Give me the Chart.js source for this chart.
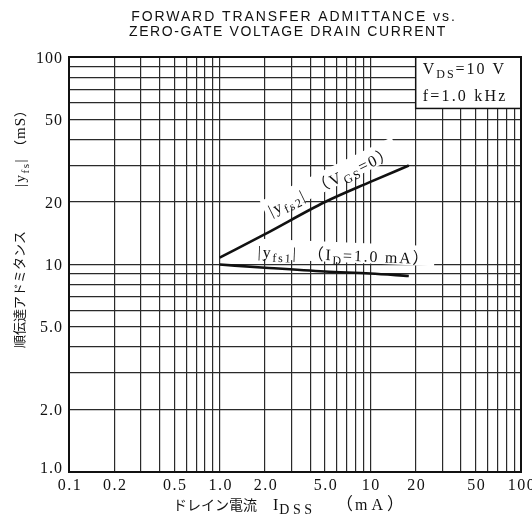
<!DOCTYPE html>
<html><head><meta charset="utf-8">
<script src="https://cdn.jsdelivr.net/npm/chart.js@4/dist/chart.umd.min.js"></script>
<style>html,body{margin:0;padding:0;background:#fff}#c{display:block}</style>
</head><body>
<canvas id="c" width="532" height="524"></canvas>
<script>
// ---- data ----
const titleLines = ['FORWARD TRANSFER ADMITTANCE vs.', 'ZERO-GATE VOLTAGE DRAIN CURRENT'];
const xTickValues = [0.1, 0.2, 0.5, 1, 2, 5, 10, 20, 50, 100];
const xTickLabels = ['0.1', '0.2', '0.5', '1.0', '2.0', '5.0', '10', '20', '50', '100'];
const yTickValues = [1, 2, 5, 10, 20, 50, 100];
const yTickLabels = ['1.0', '2.0', '5.0', '10', '20', '50', '100'];
const idss = [1, 2, 5, 10, 18];            // mA
const yfs2 = [10.8, 14.0, 20, 25, 30];     // mS (VGS=0)
const yfs1 = [10, 9.65, 9.25, 9.05, 8.8];  // mS (ID=1.0 mA)
const xRange = [0.1, 100];
const yRange = [1, 100];

// ---- helpers ----
const SERIF = '"Liberation Serif", "DejaVu Serif", serif';
const SANS = '"Liberation Sans", Arial, sans-serif';
const CJK = '"Noto Sans CJK JP", sans-serif';

function gridValues(min, max) {
  const out = [];
  for (let d = Math.floor(Math.log10(min)); d <= Math.ceil(Math.log10(max)); d++) {
    for (let k = 1; k <= 9; k++) {
      const v = +(k * Math.pow(10, d)).toPrecision(6);
      if (v >= min - 1e-9 && v <= max + 1e-9) out.push(v);
    }
  }
  if (out[out.length - 1] < max) out.push(max);
  return out;
}
function segFont(s, size) {
  const sz = s.size || size;
  if (s.k === 'j') return sz + 'px ' + CJK;
  if (s.k === 'sans') return sz + 'px ' + SANS;
  if (s.k === 's') return Math.round(sz * 0.72) + 'px ' + SERIF;
  return sz + 'px ' + SERIF;
}
function richWidth(ctx, segs, size, sp) {
  let w = 0;
  for (const s of segs) {
    if (s.gap) { w += s.gap; continue; }
    ctx.font = segFont(s, size);
    ctx.letterSpacing = (s.sp != null ? s.sp : sp) + 'px';
    w += ctx.measureText(s.t).width;
  }
  return w;
}
function drawRich(ctx, segs, x, y, size, sp, align) {
  const w = richWidth(ctx, segs, size, sp);
  let cx = align === 'center' ? x - w / 2 : align === 'right' ? x - w : x;
  ctx.textAlign = 'left';
  ctx.textBaseline = 'alphabetic';
  for (const s of segs) {
    if (s.gap) { cx += s.gap; continue; }
    ctx.font = segFont(s, size);
    ctx.letterSpacing = (s.sp != null ? s.sp : sp) + 'px';
    const dy = s.k === 's' ? size * 0.25 : 0;
    ctx.fillText(s.t, cx, y + dy);
    cx += ctx.measureText(s.t).width;
  }
  ctx.letterSpacing = '0px';
  return w;
}

const label2 = [{t: '|y'}, {t: 'fs2', k: 's'}, {t: '|'}, {gap: 10}, {t: '（', k: 'j'}, {t: 'V'}, {t: 'GS', k: 's'}, {t: '=0'}, {t: '）', k: 'j'}];
const label1 = [{t: '|y'}, {t: 'fs1', k: 's'}, {t: '|'}, {gap: 10}, {t: '（', k: 'j'}, {t: 'I'}, {t: 'D', k: 's'}, {t: '=1.0 mA'}, {t: '）', k: 'j'}];
const xTitleJ = [{t: 'ドレイン電流', k: 'j', size: 14, sp: 0}];
const xTitleI = [{t: 'I', sp: 1}, {t: 'DSS', k: 's', size: 19, sp: 3.5}];
const xTitleU = [{t: '（', k: 'j', size: 17}, {t: 'mA', sp: 4}, {t: '）', k: 'j', size: 17}];
const yTitleJ = [{t: '順伝達アドミタンス', k: 'j', size: 13, sp: 0}];
const yTitleY = [{t: '|y'}, {t: 'fs', k: 's'}, {t: '|'}];
const yTitleU = [{t: '（', k: 'j', size: 13}, {t: 'mS', sp: 1}, {t: '）', k: 'j', size: 13}];

const deco = {
  id: 'deco',
  beforeDraw(chart) {
    const c = chart.ctx;
    c.save(); c.fillStyle = '#fff'; c.fillRect(0, 0, chart.width, chart.height); c.restore();
  },
  beforeDatasetsDraw(chart) {
    const c = chart.ctx, xs = chart.scales.x, ys = chart.scales.y;
    c.save();
    // condition box
    const bx = xs.getPixelForValue(20), bxr = xs.getPixelForValue(100);
    const by = ys.getPixelForValue(100), byb = ys.getPixelForValue(56.5);
    c.fillStyle = '#fff'; c.fillRect(bx, by, bxr - bx, byb - by);
    c.strokeStyle = '#111'; c.lineWidth = 1.5; c.strokeRect(bx, by, bxr - bx, byb - by);
    c.fillStyle = '#111';
    drawRich(c, [{t: 'V'}, {t: 'DS', k: 's'}, {t: '=10 V'}], bx + 7, by + 17, 16, 2, 'left');
    drawRich(c, [{t: 'f=1.0 kHz'}], bx + 7, by + 44, 16, 2.2, 'left');

    // curve labels
    const ang = (arr) => {
      const x1 = xs.getPixelForValue(idss[0]), y1 = ys.getPixelForValue(arr[0]);
      const x2 = xs.getPixelForValue(idss[idss.length - 1]), y2 = ys.getPixelForValue(arr[arr.length - 1]);
      return Math.atan2(y2 - y1, x2 - x1);
    };
    const put = (segs, xv, yv, a, size, sp) => {
      const px = xs.getPixelForValue(xv), py = ys.getPixelForValue(yv);
      c.save();
      c.translate(px, py); c.rotate(a);
      const w = richWidth(c, segs, size, sp);
      c.fillStyle = '#fff'; c.fillRect(-w / 2 - 4, -size * 0.8, w + 8, size * 1.25);
      c.fillStyle = '#111';
      drawRich(c, segs, 0, size * 0.35, size, sp, 'center');
      c.restore();
    };
    put(label2, 5.5, 25.3, ang(yfs2), 16, 1.8);
    put(label1, 6.7, 11.1, ang(yfs1) * 0.7, 16, 1.8);
    c.restore();
  },
  afterDraw(chart) {
    const c = chart.ctx, xs = chart.scales.x, ys = chart.scales.y, a = chart.chartArea;
    c.save();
    c.strokeStyle = '#111'; c.lineWidth = 2;
    c.strokeRect(a.left, a.top, a.right - a.left, a.bottom - a.top);
    c.fillStyle = '#111';
    // tick labels
    yTickValues.forEach((v, i) => {
      const off = i === 0 ? 1 : 5.5;
      drawRich(c, [{t: yTickLabels[i]}], a.left - 6, ys.getPixelForValue(v) + off, 16, 1, 'right');
    });
    xTickValues.forEach((v, i) => {
      drawRich(c, [{t: xTickLabels[i]}], xs.getPixelForValue(v) + 1, a.bottom + 18, 16, 1.5, 'center');
    });
    // x axis title
    drawRich(c, xTitleJ, 173, 510, 16, 0, 'left');
    drawRich(c, xTitleI, 273, 510, 16, 2, 'left');
    drawRich(c, xTitleU, 336, 510, 16, 2, 'left');
    // y axis title (rotated, reading bottom to top)
    c.save();
    c.translate(25, 0); c.rotate(-Math.PI / 2);
    drawRich(c, yTitleJ, -348, -1, 15, 0, 'left');
    drawRich(c, yTitleY, -187, 0, 15, 1.5, 'left');
    drawRich(c, yTitleU, -153, 0, 15, 1, 'left');
    c.restore();
    // chart title
    drawRich(c, [{t: titleLines[0], k: 'sans'}], 294, 21, 14, 1.9, 'center');
    drawRich(c, [{t: titleLines[1], k: 'sans'}], 288, 36, 14, 1.6, 'center');
    c.restore();
  }
};

const gridOpts = {color: '#2a2a2a', lineWidth: 1.2, drawTicks: false};
new Chart(document.getElementById('c').getContext('2d'), {
  type: 'line',
  data: {
    datasets: [
      {label: '|yfs2|', data: idss.map((x, i) => ({x, y: yfs2[i]})), borderColor: '#111', borderWidth: 2.6, pointRadius: 0, cubicInterpolationMode: 'monotone', fill: false},
      {label: '|yfs1|', data: idss.map((x, i) => ({x, y: yfs1[i]})), borderColor: '#111', borderWidth: 2.6, pointRadius: 0, cubicInterpolationMode: 'monotone', fill: false}
    ]
  },
  options: {
    responsive: false, animation: false, devicePixelRatio: 1,
    layout: {padding: {left: 0, top: 57, right: 11, bottom: 0}},
    plugins: {legend: {display: false}, title: {display: false}, tooltip: {enabled: false}},
    scales: {
      x: {type: 'logarithmic', min: xRange[0], max: xRange[1],
        afterBuildTicks: s => { s.ticks = gridValues(xRange[0], xRange[1]).map(v => ({value: v})); },
        afterFit: s => { s.height = 52; },
        ticks: {display: false}, grid: gridOpts, border: {display: false}},
      y: {type: 'logarithmic', min: yRange[0], max: yRange[1],
        afterBuildTicks: s => { s.ticks = gridValues(yRange[0], yRange[1]).map(v => ({value: v})); },
        afterFit: s => { s.width = 69; },
        ticks: {display: false}, grid: gridOpts, border: {display: false}}
    }
  },
  plugins: [deco]
});
</script>
</body></html>
